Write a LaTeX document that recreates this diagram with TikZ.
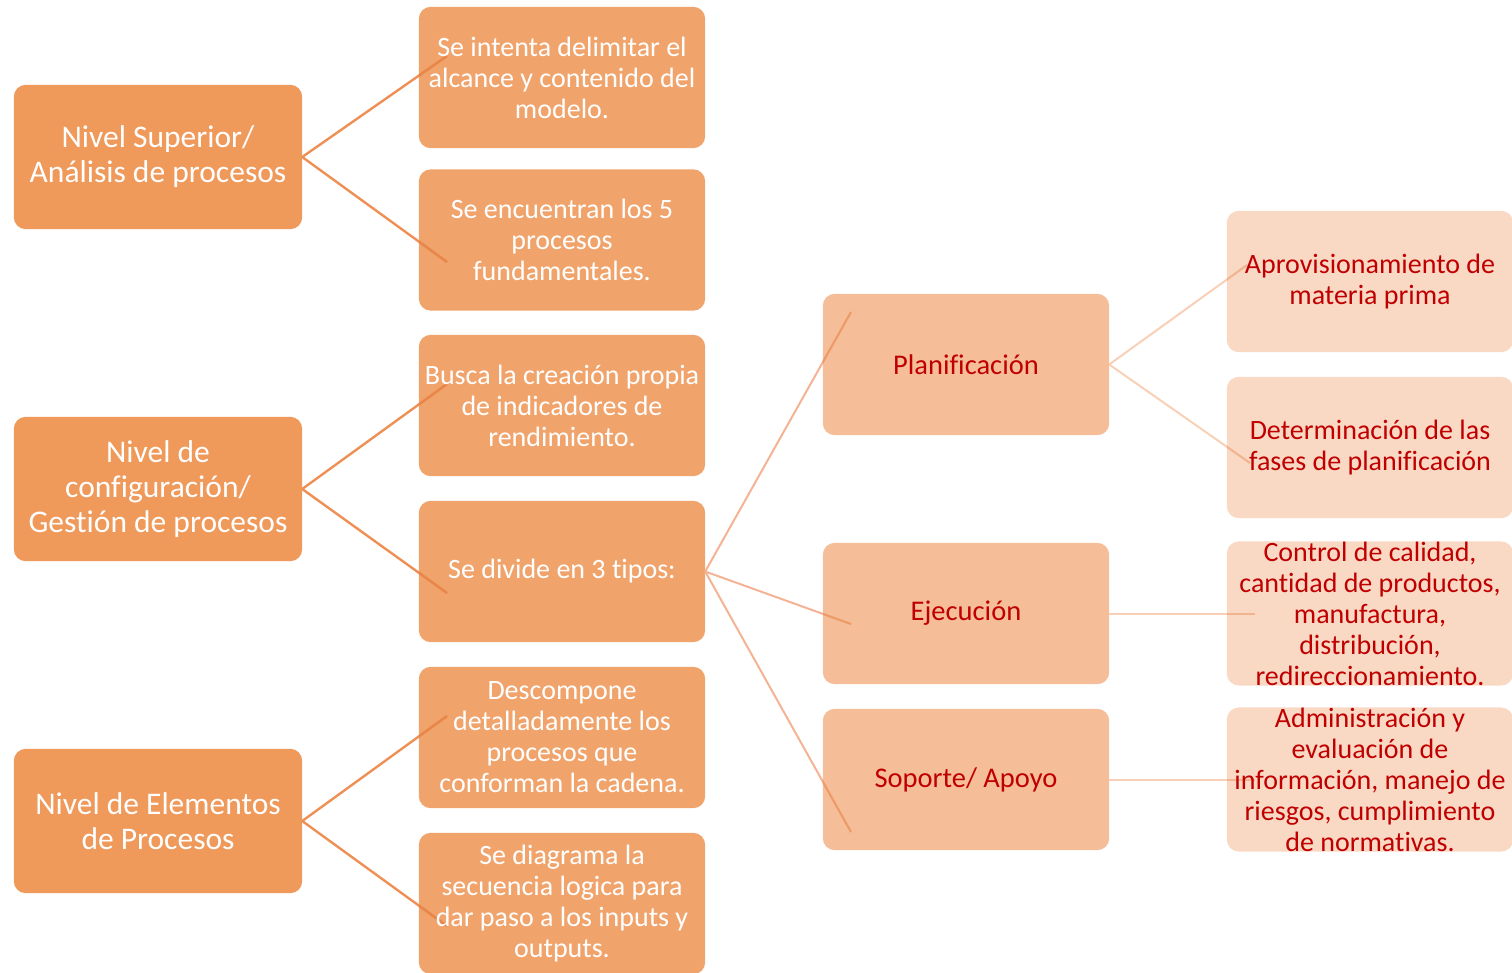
\documentclass[tikz,border=0pt]{standalone}
\usepackage{fontspec}
\setmainfont{Carlito}[Ligatures={NoCommon}]
\pgfdeclarelayer{bg}
\pgfdeclarelayer{mid}
\pgfsetlayers{bg,mid,main}

\definecolor{fillA}{HTML}{EF995A}
\definecolor{fillB}{HTML}{F0A46C}
\definecolor{fillC}{HTML}{F5BD98}
\definecolor{fillD}{HTML}{F9D8C4}
\definecolor{lineA}{HTML}{EE9055}
\definecolor{lineAdark}{HTML}{E9874B}
\definecolor{lineB}{HTML}{F4B394}
\definecolor{lineBdark}{HTML}{EE9A66}
\definecolor{lineC}{HTML}{F8D0B8}
\definecolor{lineCdark}{HTML}{F1B48E}
\definecolor{darkred}{HTML}{C00000}

\tikzset{
  lvlA/.style={minimum width=288pt, minimum height=144pt, inner sep=0pt, align=center,
    text=white, font=\fontsize{31.5}{35}\selectfont},
  lvlB/.style={minimum width=286pt, minimum height=141pt, inner sep=0pt, align=center,
    text=white, font=\fontsize{28}{31}\selectfont},
  lvlC/.style={minimum width=286pt, minimum height=141pt, inner sep=0pt, align=center,
    text=darkred, font=\fontsize{28.5}{31}\selectfont},
  lvlD/.style={minimum width=286pt, minimum height=141pt, inner sep=0pt, align=center,
    text=darkred, font=\fontsize{28}{31}\selectfont},
  boxfill/.style={rounded corners=12pt},
}

% connector: parent, child, end point, colour outside, colour inside the child, width
\newcommand\linkbox[6]{%
  \draw[#4, line width=#6] (#1.east) -- (#3);
  \begin{scope}
    \clip (#2.south west) rectangle (#2.north east);
    \draw[#5, line width=#6] (#1.east) -- (#3);
  \end{scope}}

\begin{document}
\begin{tikzpicture}[x=1pt, y=-1pt]
\useasboundingbox (0,0) rectangle (1512,972);

% first column
\node[lvlA] (ns) at (158,157) {Nivel Superior/\\Análisis de procesos};
\node[lvlA] (nc) at (158,489) {Nivel de\\configuración/\\Gestión de procesos};
\node[lvlA] (ne) at (158,821) {Nivel de Elementos\\de Procesos};

% second column
\node[lvlB] (b1) at (562,77.5) {Se intenta delimitar el\\alcance y contenido del\\modelo.};
\node[lvlB] (b2) at (562,240) {Se encuentran los 5\\procesos\\fundamentales.};
\node[lvlB] (b3) at (562,405.5) {Busca la creación propia\\de indicadores de\\rendimiento.};
\node[lvlB] (b4) at (562,571.5) {Se divide en 3 tipos:};
\node[lvlB] (b5) at (562,737.5) {Descompone\\detalladamente los\\procesos que\\conforman la cadena.};
\node[lvlB] (b6) at (562,903.5) {Se diagrama la\\secuencia logica para\\dar paso a los inputs y\\outputs.};

% third column
\node[lvlC] (pl) at (966,364.5) {Planificación};
\node[lvlC] (ej) at (966,613.5) {Ejecución};
\node[lvlC] (sp) at (966,779.5) {Soporte/ Apoyo};

% fourth column
\node[lvlD] (d1) at (1370,281.5) {Aprovisionamiento de\\materia prima};
\node[lvlD] (d2) at (1370,447.5) {Determinación de las\\fases de planificación};
\node[lvlD] (d3) at (1370,613.5) {Control de calidad,\\cantidad de productos,\\manufactura,\\distribución,\\redireccionamiento.};
\node[lvlD] (d4) at (1370,779.5) {Administración y\\evaluación de\\información, manejo de\\riesgos, cumplimiento\\de normativas.};

% box fills behind the texts
\begin{pgfonlayer}{bg}
  \foreach \n in {ns,nc,ne}
    \fill[fillA, boxfill] (\n.south west) rectangle (\n.north east);
  \foreach \n in {b1,b2,b3,b4,b5,b6}
    \fill[fillB, boxfill] (\n.south west) rectangle (\n.north east);
  \foreach \n in {pl,ej,sp}
    \fill[fillC, boxfill] (\n.south west) rectangle (\n.north east);
  \foreach \n in {d1,d2,d3,d4}
    \fill[fillD, boxfill] (\n.south west) rectangle (\n.north east);
\end{pgfonlayer}

% connector end points inside the child boxes
\coordinate (e1) at (447,56);
\coordinate (e2) at (447,262);
\coordinate (e3) at (447,384);
\coordinate (e4) at (447,593);
\coordinate (e5) at (447,716);
\coordinate (e6) at (447,926);
\coordinate (f1) at (851,312);
\coordinate (f2) at (851,624);
\coordinate (f3) at (851,832);
\coordinate (g1) at (1247,265);
\coordinate (g2) at (1250,463);
\coordinate (g3) at (1255,613.5);
\coordinate (g4) at (1255,779.5);

\begin{pgfonlayer}{mid}
  \linkbox{ns}{b1}{e1}{lineA}{lineAdark}{2.4pt}
  \linkbox{ns}{b2}{e2}{lineA}{lineAdark}{2.4pt}
  \linkbox{nc}{b3}{e3}{lineA}{lineAdark}{2.4pt}
  \linkbox{nc}{b4}{e4}{lineA}{lineAdark}{2.4pt}
  \linkbox{ne}{b5}{e5}{lineA}{lineAdark}{2.4pt}
  \linkbox{ne}{b6}{e6}{lineA}{lineAdark}{2.4pt}
  \linkbox{b4}{pl}{f1}{lineB}{lineBdark}{2pt}
  \linkbox{b4}{ej}{f2}{lineB}{lineBdark}{2pt}
  \linkbox{b4}{sp}{f3}{lineB}{lineBdark}{2pt}
  \linkbox{pl}{d1}{g1}{lineC}{lineCdark}{2pt}
  \linkbox{pl}{d2}{g2}{lineC}{lineCdark}{2pt}
  \linkbox{ej}{d3}{g3}{lineC}{lineCdark}{2pt}
  \linkbox{sp}{d4}{g4}{lineC}{lineCdark}{2pt}
\end{pgfonlayer}
\end{tikzpicture}
\end{document}
